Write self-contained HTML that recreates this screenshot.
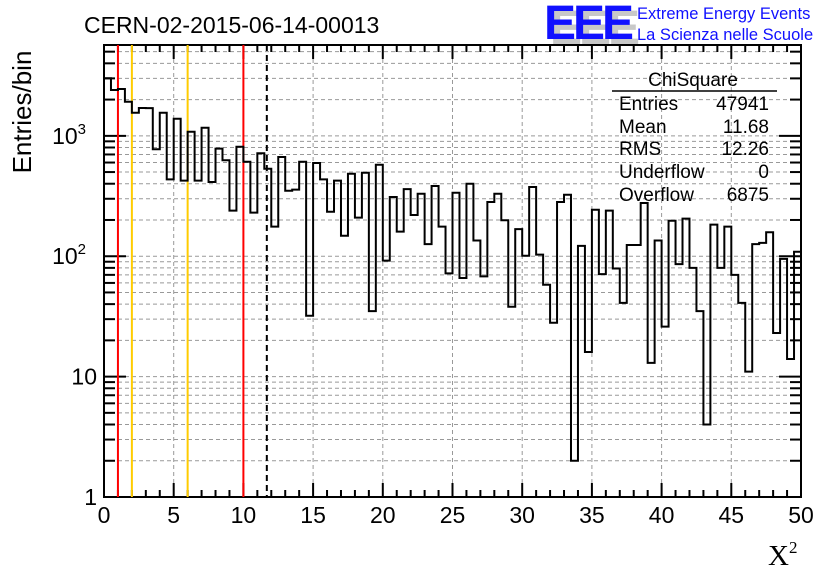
<!DOCTYPE html>
<html><head><meta charset="utf-8"><style>
body{margin:0;background:#fff;}
svg{display:block;font-family:"Liberation Sans",sans-serif;}
</style></head><body>
<svg id="c" width="836" height="572" viewBox="0 0 836 572">
<g id="grid"></g>
<g id="axes"></g>
<g id="marks"></g>
<path id="hist" fill="none" stroke="#000" stroke-width="2"/>
<text x="84" y="33" font-size="23">CERN-02-2015-06-14-00013</text>
<g>
<text x="550" y="44" font-size="48" font-weight="bold" fill="#c8c8c8" letter-spacing="-3" transform="scale(1,1)">EEE</text>
<text x="544" y="39" font-size="48" font-weight="bold" fill="#1010ff" letter-spacing="-3">EEE</text>
<text x="637" y="19" font-size="16.5" fill="#1010ff">Extreme Energy Events</text>
<text x="637" y="40" font-size="16.5" fill="#1010ff">La Scienza nelle Scuole</text>
</g>
<g font-size="19">
<text x="693" y="86" text-anchor="middle">ChiSquare</text>
<line x1="612" y1="91" x2="777" y2="91" stroke="#000" stroke-width="1.5"/>
<text x="619" y="110">Entries</text><text x="769" y="110" text-anchor="end">47941</text>
<text x="619" y="133">Mean</text><text x="769" y="133" text-anchor="end">11.68</text>
<text x="619" y="155">RMS</text><text x="769" y="155" text-anchor="end">12.26</text>
<text x="619" y="178">Underflow</text><text x="769" y="178" text-anchor="end">0</text>
<text x="619" y="201">Overflow</text><text x="769" y="201" text-anchor="end">6875</text>
</g>
<text transform="translate(31,112) rotate(-90)" font-size="26" text-anchor="middle">Entries/bin</text>
<text x="768" y="565" font-size="29" font-family="Liberation Serif,serif">X<tspan font-size="17" dy="-12">2</tspan></text>
</svg>
<script>
const binWidth = 0.5;
const counts = [3005,2400,2450,1920,1556,1702,1700,773,1556,435,1387,424,1082,424,1167,413,782,626,239,812,
609,230,716,533,176,667,350,357,609,32,594,435,234,424,148,484,209,494,35,575,
92,310,160,361,220,330,126,383,176,72,337,66,400,135,68,282,330,199,38,168,
101,376,103,58,28,282,324,2,122,16,243,71,239,79,41,124,124,277,13,135,
26,197,86,205,80,35,4,183,80,176,70,41,11,126,129,158,23,95,14,109];
const xTicks = [0,5,10,15,20,25,30,35,40,45,50];
const markerRed = [1,10];
const markerYellow = [2,6];
const meanValue = [11.68];
const L=104,R=801,T=45,B=497,YMAX=5680;
const X=v=>L+(v/50)*(R-L);
const DEC=(B-T)/Math.log10(YMAX);
const Y=v=>B-Math.log10(Math.max(v,1))*DEC;
const ns="http://www.w3.org/2000/svg";
function mk(p,t,a){const e=document.createElementNS(ns,t);for(const k in a)e.setAttribute(k,a[k]);p.appendChild(e);return e;}
const grid=document.getElementById('grid'),axes=document.getElementById('axes'),marks=document.getElementById('marks');
for(const t of xTicks){if(t>0&&t<50){const g=mk(grid,'line',{x1:X(t),x2:X(t),y1:T,y2:B,stroke:'#999','stroke-dasharray':'4,3','stroke-width':1});
}}
for(let d=1;d<=1000;d*=10){for(let m=1;m<=9;m++){const v=d*m;if(v<=1||v>YMAX)continue;
const g=mk(grid,'line',{x1:L,x2:R,y1:Y(v),y2:Y(v),stroke:'#999','stroke-dasharray':'4,3','stroke-width':1});

const big=(m===1);
mk(axes,'line',{x1:L,x2:L+(big?22:11),y1:Y(v),y2:Y(v),stroke:'#000','stroke-width':2});
mk(axes,'line',{x1:R,x2:R-(big?22:11),y1:Y(v),y2:Y(v),stroke:'#000','stroke-width':2});}}
const f=mk(axes,'rect',{x:L,y:T,width:R-L,height:B-T,fill:'none',stroke:'#000','stroke-width':2});

for(let v=0;v<=50;v+=1){const big=v%5===0;const h=big?14:7;
mk(axes,'line',{x1:X(v),x2:X(v),y1:B,y2:B-h,stroke:'#000','stroke-width':2});
mk(axes,'line',{x1:X(v),x2:X(v),y1:T,y2:T+h,stroke:'#000','stroke-width':2});}
for(const t of xTicks){const e=mk(axes,'text',{x:X(t),y:523,'font-size':23,'text-anchor':'middle'});e.textContent=t;
}
const yl=[[1,'1'],[10,'10'],[100,'10'],[1000,'10']];
yl.forEach(([v,s],i)=>{const e=mk(axes,'text',{x:97,y:Y(v)+8,'font-size':23,'text-anchor':'end'});

if(i<2)e.textContent=s;else{e.setAttribute('x',86);e.textContent=s;const sp=document.createElementNS(ns,'tspan');sp.setAttribute('font-size',15);sp.setAttribute('dy',-10);sp.textContent=i;e.appendChild(sp);}});
for(const v of markerRed){const e=mk(marks,'line',{x1:X(v),x2:X(v),y1:T,y2:B,stroke:'#f00','stroke-width':2});}
for(const v of markerYellow){const e=mk(marks,'line',{x1:X(v),x2:X(v),y1:T,y2:B,stroke:'#fc0','stroke-width':2});}
for(const v of meanValue){const e=mk(marks,'line',{x1:X(v),x2:X(v),y1:T,y2:B,stroke:'#000','stroke-width':2,'stroke-dasharray':'6,4'});}
let d='';counts.forEach((c,i)=>{const x0=X(i*binWidth),x1=X((i+1)*binWidth),y=Y(c);d+=(i===0?'M'+x0+','+y:'L'+x0+','+y)+'L'+x1+','+y;});
document.getElementById('hist').setAttribute('d',d);
</script>
</body></html>
